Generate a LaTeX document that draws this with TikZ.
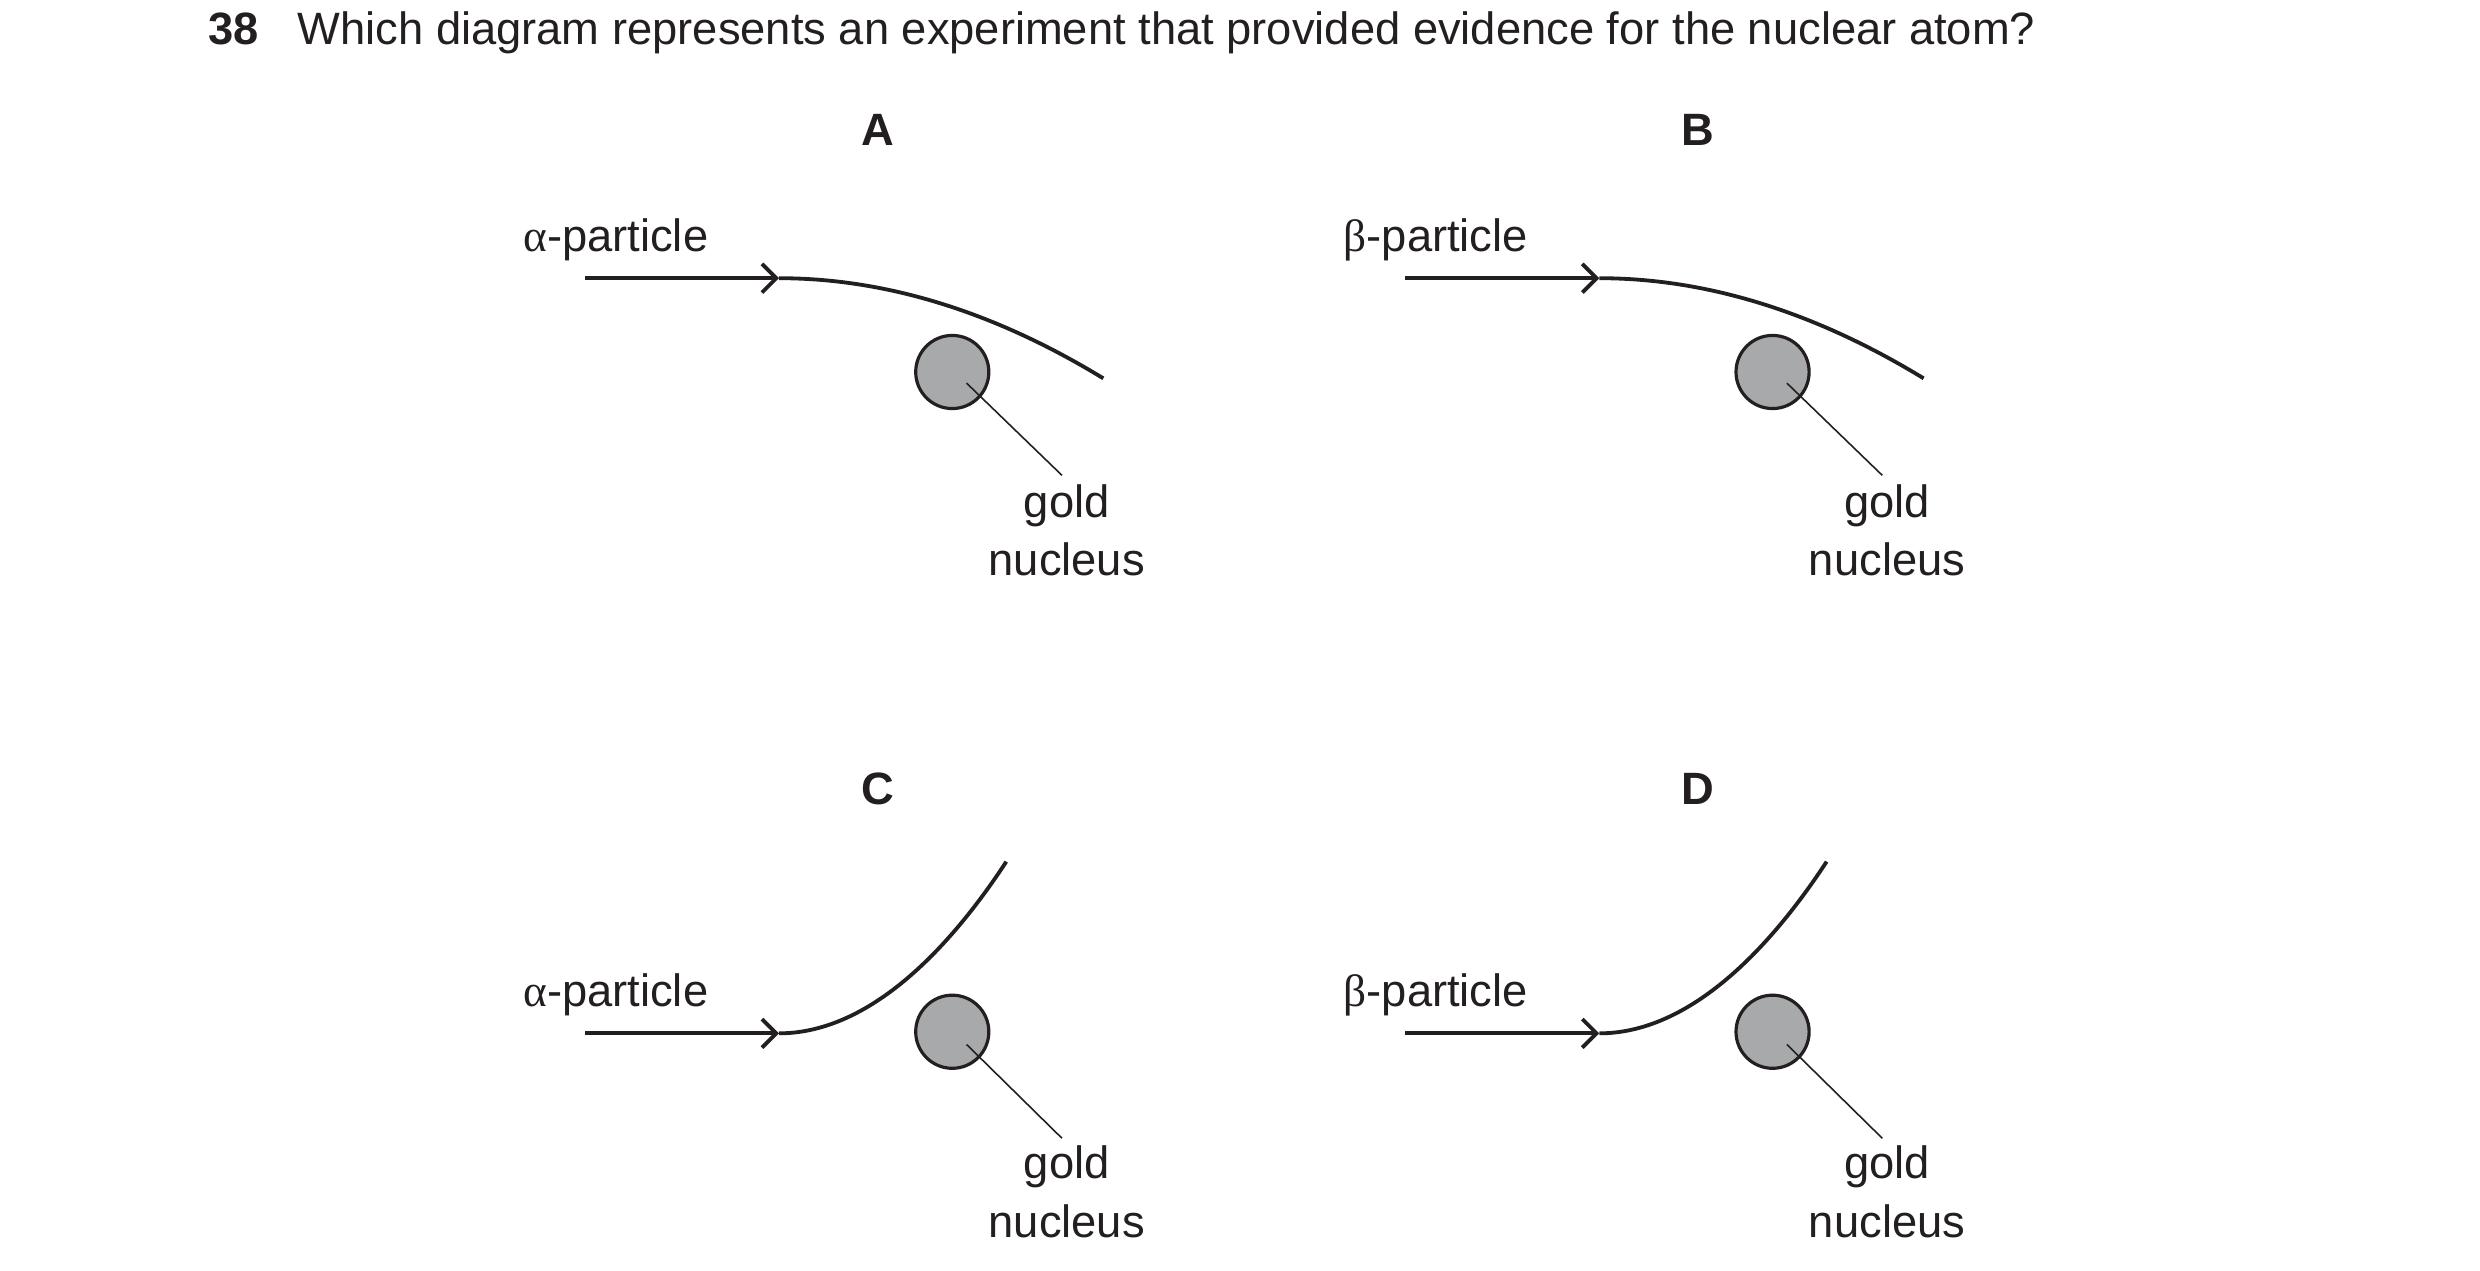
\documentclass[tikz,border=0pt]{standalone}
\usepackage{fontspec}
\setmainfont{Liberation Sans}
\newfontfamily\grk{Liberation Serif}
\usetikzlibrary{arrows.meta}
\definecolor{nucgray}{HTML}{A8A9AB}
\definecolor{ink}{HTML}{231F20}
\begin{document}
\begin{tikzpicture}[x=1pt,y=-1pt,
  txt/.style={font=\fontsize{28.5}{32}\selectfont,text=ink,inner sep=0pt},
  lab/.style={txt,font=\fontsize{28.5}{32}\selectfont\bfseries},
  path/.style={line width=2.4pt,draw=ink},
  nuc/.style={circle,minimum size=46pt,inner sep=0pt,fill=nucgray,draw=ink,line width=2pt},
  lead/.style={line width=1pt,draw=ink}]
\useasboundingbox (0,0) rectangle (1560,799);
\node[lab,anchor=base west] (num) at (131,28) {38};
\node[txt,anchor=base west] (q) at (187,28) {Which diagram represents an experiment that provided evidence for the nuclear atom?};
\foreach \L/\dx/\p/\up in {A/0/α/0,B/516/β/0,C/0/α/1,D/516/β/1}{
  \begin{scope}[xshift=\dx]
  \ifnum\up=0
    \node[lab] (lab\L) at (552,82) {\L};
    \node[txt,anchor=base west] (part\L) at (329,158) {{\grk\p}-particle};
    \coordinate (s\L) at (368,175);
    \coordinate (m\L) at (490,175);
    \coordinate (e\L) at (694,238);
    \draw[path] (m\L) .. controls (570,175) and (640,205) .. (e\L);
    \node[nuc] (n\L) at (599,234) {};
    \coordinate (t\L) at (668,299);
    \draw[lead] (608,241) -- (t\L);
    \node[txt] (g\L) at (671,318) {gold};
    \node[txt] (nn\L) at (671,352) {nucleus};
  \else
    \node[lab] (lab\L) at (552,496) {\L};
    \node[txt,anchor=base west] (part\L) at (329,633) {{\grk\p}-particle};
    \coordinate (s\L) at (368,650);
    \coordinate (m\L) at (490,650);
    \coordinate (e\L) at (633,542);
    \draw[path] (m\L) .. controls (545,650) and (595,600) .. (e\L);
    \node[nuc] (n\L) at (599,649) {};
    \coordinate (t\L) at (668,716);
    \draw[lead] (608,657) -- (t\L);
    \node[txt] (g\L) at (671,734) {gold};
    \node[txt] (nn\L) at (671,768) {nucleus};
  \fi
  \draw[path,-{Straight Barb[length=9pt,width=18pt]}] (s\L) -- (m\L);
  \end{scope}}
\end{tikzpicture}
\end{document}
